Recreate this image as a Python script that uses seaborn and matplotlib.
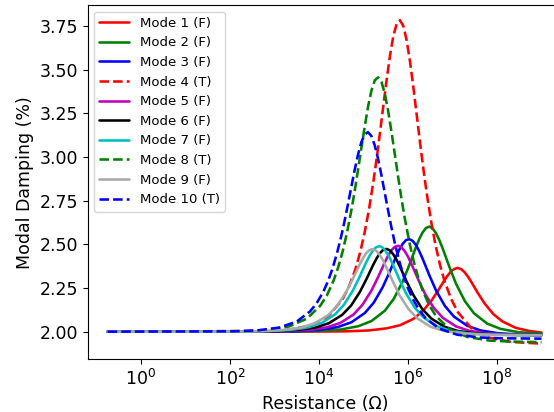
import numpy as np
import pandas as pd
import matplotlib
matplotlib.use("Agg")
import matplotlib.pyplot as plt
import seaborn as sns
from matplotlib.ticker import NullLocator, FormatStrFormatter

# log10 of resistance (Ohm) and modal damping (%), per mode
mode1_log_r = [-0.75, 4.12, 4.62, 5.12, 5.52, 5.82, 6.12, 6.32, 6.52, 6.67, 6.82, 6.895, 6.97, 7.045, 7.12,
               7.195, 7.27, 7.345, 7.42, 7.57, 7.72, 7.92, 8.12, 8.42, 8.72, 9.0]
mode1_damp = [2.000, 2.001, 2.002, 2.007, 2.019, 2.037, 2.073, 2.115, 2.175, 2.233, 2.295, 2.323, 2.346, 2.360, 2.365,
              2.358, 2.341, 2.316, 2.286, 2.221, 2.162, 2.100, 2.059, 2.022, 2.004, 1.995]

mode2_log_r = [-0.75, 3.48, 3.98, 4.48, 4.88, 5.18, 5.48, 5.68, 5.88, 6.03, 6.18, 6.255, 6.33, 6.405, 6.48,
               6.555, 6.63, 6.705, 6.78, 6.93, 7.08, 7.28, 7.48, 7.78, 8.08, 8.48, 9.0]
mode2_damp = [2.000, 2.001, 2.004, 2.012, 2.031, 2.061, 2.120, 2.188, 2.287, 2.382, 2.485, 2.532, 2.569, 2.594, 2.602,
              2.591, 2.564, 2.524, 2.476, 2.371, 2.274, 2.174, 2.106, 2.046, 2.016, 1.997, 1.989]

mode3_log_r = [-0.75, 3.03, 3.53, 4.03, 4.43, 4.73, 5.03, 5.23, 5.43, 5.58, 5.73, 5.805, 5.88, 5.955, 6.03,
               6.105, 6.18, 6.255, 6.33, 6.48, 6.63, 6.83, 7.03, 7.33, 7.63, 8.03, 8.53, 9.0]
mode3_damp = [2.000, 2.001, 2.003, 2.011, 2.027, 2.054, 2.107, 2.166, 2.254, 2.338, 2.429, 2.470, 2.503, 2.524, 2.530,
              2.520, 2.496, 2.460, 2.417, 2.323, 2.236, 2.147, 2.087, 2.034, 2.007, 1.991, 1.983, 1.981]

mode4_log_r = [-0.75, 2.82, 3.32, 3.82, 4.22, 4.52, 4.67, 4.82, 4.92, 5.02, 5.12, 5.22, 5.295, 5.37, 5.445,
               5.52, 5.595, 5.67, 5.745, 5.82, 5.895, 5.97, 6.045, 6.12, 6.195, 6.27, 6.345, 6.42, 6.52,
               6.62, 6.72, 6.82, 6.97, 7.12, 7.42, 7.82, 8.32, 8.82, 9.0]
mode4_damp = [2.000, 2.004, 2.011, 2.036, 2.091, 2.182, 2.256, 2.359, 2.450, 2.561, 2.695, 2.856, 2.991, 3.139, 3.292,
              3.443, 3.581, 3.692, 3.763, 3.784, 3.751, 3.669, 3.548, 3.401, 3.243, 3.084, 2.933, 2.794, 2.631,
              2.494, 2.382, 2.291, 2.187, 2.112, 2.021, 1.966, 1.941, 1.934, 1.932]

mode5_log_r = [-0.75, 2.78, 3.28, 3.78, 4.18, 4.48, 4.78, 4.98, 5.18, 5.33, 5.48, 5.555, 5.63, 5.705, 5.78,
               5.855, 5.93, 6.005, 6.08, 6.23, 6.38, 6.58, 6.78, 7.08, 7.38, 7.78, 8.28, 8.78, 9.0]
mode5_damp = [2.000, 2.001, 2.003, 2.010, 2.025, 2.050, 2.099, 2.155, 2.236, 2.314, 2.398, 2.436, 2.467, 2.486, 2.492,
              2.483, 2.460, 2.427, 2.386, 2.299, 2.218, 2.136, 2.080, 2.030, 2.005, 1.990, 1.983, 1.981, 1.980]

mode6_log_r = [-0.75, 2.52, 3.02, 3.52, 3.92, 4.22, 4.52, 4.72, 4.92, 5.07, 5.22, 5.295, 5.37, 5.445, 5.52,
               5.595, 5.67, 5.745, 5.82, 5.97, 6.12, 6.32, 6.52, 6.82, 7.12, 7.52, 8.02, 8.52, 9.0]
mode6_damp = [2.000, 2.001, 2.003, 2.010, 2.024, 2.048, 2.096, 2.149, 2.228, 2.303, 2.384, 2.420, 2.450, 2.469, 2.474,
              2.465, 2.443, 2.411, 2.372, 2.287, 2.210, 2.130, 2.076, 2.028, 2.004, 1.990, 1.983, 1.981, 1.980]

mode7_log_r = [-0.75, 2.36, 2.86, 3.36, 3.76, 4.06, 4.36, 4.56, 4.76, 4.91, 5.06, 5.135, 5.21, 5.285, 5.36,
               5.435, 5.51, 5.585, 5.66, 5.81, 5.96, 6.16, 6.36, 6.66, 6.96, 7.36, 7.86, 8.36, 8.86, 9.0]
mode7_damp = [2.000, 2.001, 2.003, 2.010, 2.025, 2.050, 2.099, 2.154, 2.235, 2.313, 2.397, 2.434, 2.465, 2.484, 2.490,
              2.481, 2.458, 2.425, 2.385, 2.297, 2.217, 2.135, 2.079, 2.030, 2.005, 1.990, 1.983, 1.981, 1.980, 1.980]

mode8_log_r = [-0.75, 2.33, 2.83, 3.33, 3.73, 4.03, 4.18, 4.33, 4.43, 4.53, 4.63, 4.73, 4.805, 4.88, 4.955,
               5.03, 5.105, 5.18, 5.255, 5.33, 5.405, 5.48, 5.555, 5.63, 5.705, 5.78, 5.855, 5.93, 6.03,
               6.13, 6.23, 6.33, 6.48, 6.63, 6.93, 7.33, 7.83, 8.33, 8.83, 9.0]
mode8_damp = [2.000, 2.003, 2.009, 2.030, 2.075, 2.149, 2.209, 2.294, 2.368, 2.458, 2.568, 2.699, 2.810, 2.931, 3.056,
              3.179, 3.292, 3.383, 3.440, 3.457, 3.430, 3.363, 3.263, 3.143, 3.014, 2.884, 2.760, 2.646, 2.513,
              2.401, 2.310, 2.235, 2.150, 2.089, 2.015, 1.970, 1.949, 1.943, 1.941, 1.940]

mode9_log_r = [-0.75, 2.21, 2.71, 3.21, 3.61, 3.91, 4.21, 4.41, 4.61, 4.76, 4.91, 4.985, 5.06, 5.135, 5.21,
               5.285, 5.36, 5.435, 5.51, 5.66, 5.81, 6.01, 6.21, 6.51, 6.81, 7.21, 7.71, 8.21, 8.71, 9.0]
mode9_damp = [2.000, 2.001, 2.003, 2.010, 2.024, 2.048, 2.095, 2.149, 2.227, 2.302, 2.383, 2.419, 2.449, 2.468, 2.473,
              2.464, 2.442, 2.410, 2.371, 2.287, 2.209, 2.130, 2.076, 2.028, 2.004, 1.990, 1.983, 1.981, 1.980, 1.980]

mode10_log_r = [-0.75, 2.10, 2.60, 3.10, 3.50, 3.80, 3.95, 4.10, 4.20, 4.30, 4.40, 4.50, 4.575, 4.65, 4.725,
                4.80, 4.875, 4.95, 5.025, 5.10, 5.175, 5.25, 5.325, 5.40, 5.475, 5.55, 5.625, 5.70, 5.80,
                5.90, 6.00, 6.10, 6.25, 6.40, 6.70, 7.10, 7.60, 8.10, 8.60, 9.0]
mode10_damp = [2.000, 2.002, 2.007, 2.023, 2.058, 2.116, 2.164, 2.230, 2.288, 2.359, 2.445, 2.547, 2.634, 2.729, 2.827,
               2.924, 3.012, 3.084, 3.129, 3.143, 3.122, 3.070, 2.993, 2.900, 2.799, 2.698, 2.601, 2.512, 2.408,
               2.321, 2.249, 2.191, 2.124, 2.076, 2.018, 1.983, 1.967, 1.962, 1.961, 1.960]

mode_labels = ['Mode 1 (F)', 'Mode 2 (F)', 'Mode 3 (F)', 'Mode 4 (T)', 'Mode 5 (F)',
               'Mode 6 (F)', 'Mode 7 (F)', 'Mode 8 (T)', 'Mode 9 (F)', 'Mode 10 (T)']

all_log_r = [mode1_log_r, mode2_log_r, mode3_log_r, mode4_log_r, mode5_log_r,
             mode6_log_r, mode7_log_r, mode8_log_r, mode9_log_r, mode10_log_r]
all_damp = [mode1_damp, mode2_damp, mode3_damp, mode4_damp, mode5_damp,
            mode6_damp, mode7_damp, mode8_damp, mode9_damp, mode10_damp]

line_colors = ['red', 'green', 'blue', 'red', 'm', 'black', 'c', 'green', 'darkgray', 'blue']
line_styles = ['-', '-', '-', '--', '-', '-', '-', '--', '-', '--']

sns.set_style("ticks")
plt.rcParams['font.family'] = ['DejaVu Sans']
plt.rcParams['axes.edgecolor'] = 'black'
plt.rcParams['xtick.color'] = 'black'
plt.rcParams['ytick.color'] = 'black'
plt.rcParams['axes.labelcolor'] = 'black'
plt.rcParams['text.color'] = 'black'
plt.rcParams['axes.linewidth'] = 0.8

fig = plt.figure(figsize=(5.54, 4.12), dpi=100)
ax = fig.add_axes([0.1581, 0.1279, 0.8595, 0.86])

for lab, lr, dmp, col, ls in zip(mode_labels, all_log_r, all_damp, line_colors, line_styles):
    df = pd.DataFrame({'R': 10.0 ** np.array(lr), 'damping': dmp})
    sns.lineplot(data=df, x='R', y='damping', ax=ax, color=col, linestyle=ls,
                 linewidth=1.85, label=lab)

ax.set_xscale('log')
ax.set_xlim(10 ** -1.2, 10 ** 9.5)
ax.set_ylim(1.8417, 3.8713)
ax.set_xticks([1e0, 1e2, 1e4, 1e6, 1e8])
ax.xaxis.set_minor_locator(NullLocator())
ax.set_yticks([2.0, 2.25, 2.5, 2.75, 3.0, 3.25, 3.5, 3.75])
ax.yaxis.set_major_formatter(FormatStrFormatter('%.2f'))
ax.tick_params(labelsize=12.5, length=3.5, width=0.8)

ax.set_xlabel('Resistance (Ω)', fontsize=12.5)
ax.set_ylabel('Modal Damping (%)', fontsize=12.5)

ax.legend(loc='upper left', fontsize=9.5, labelspacing=0.5, handlelength=2.25)

fig.savefig('out.png', dpi=100)
